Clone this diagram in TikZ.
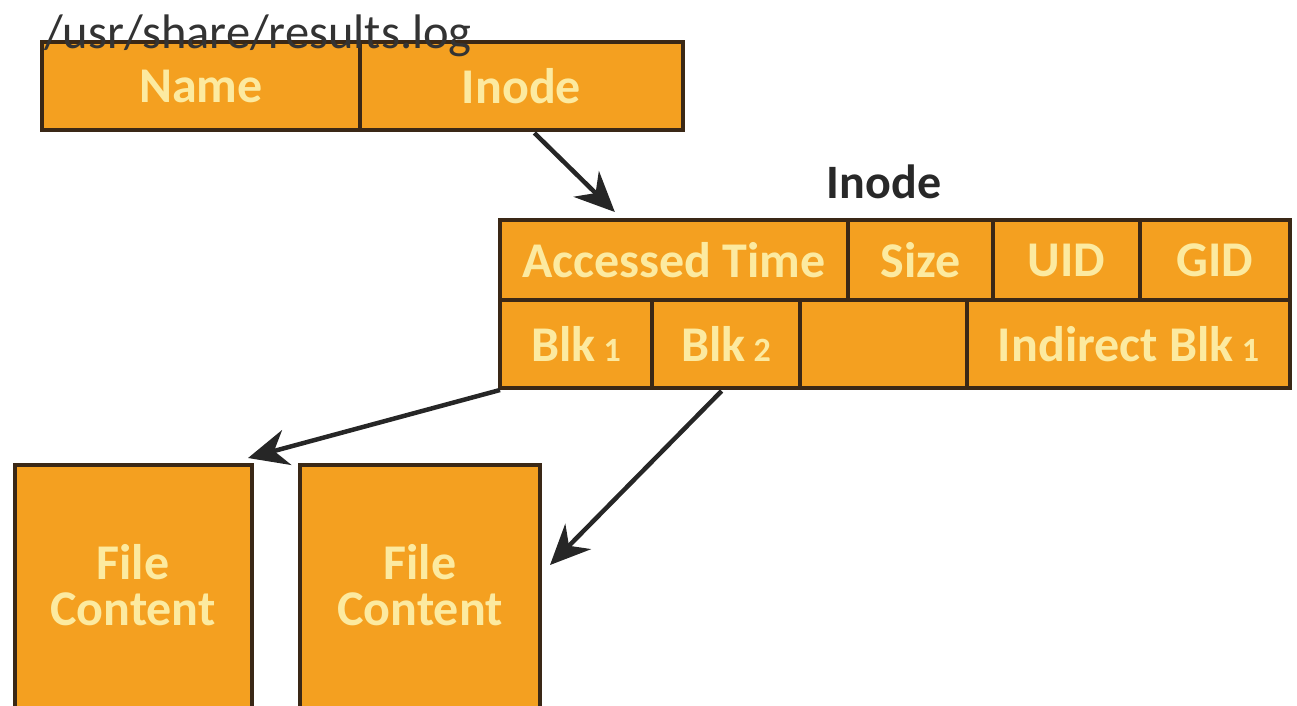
\documentclass[tikz,border=0pt]{standalone}
\usepackage{fontspec}
\setmainfont{Carlito}
\newfontfamily\cellfont{Carlito}[BoldFont={Carlito Bold}]
\usetikzlibrary{arrows.meta,calc}
\definecolor{orng}{RGB}{244,160,32}
\definecolor{bordc}{RGB}{58,40,22}
\definecolor{txtc}{RGB}{252,234,160}
\definecolor{lblc}{RGB}{40,40,40}
\newcommand{\subn}[1]{\,{\fontsize{34}{36}\selectfont #1}}
\tikzset{
  cell/.style={draw=bordc, fill=orng, line width=4pt, text=txtc, inner sep=0pt, outer sep=0pt,
    anchor=north west, font=\cellfont\bfseries\fontsize{50}{46}\selectfont, align=center},
  conn/.style={draw=black!85, line width=4.5pt, -{Stealth[length=40pt,width=36pt]}}
}
\begin{document}
\begin{tikzpicture}[x=1pt,y=-1pt]
\useasboundingbox (0,0) rectangle (1297,705);
\begin{scope}
\clip (0,0) rectangle (1297,705);
% top directory entry
\node[cell, minimum width=318pt, minimum height=88pt] (name) at (42,42) {Name};
\node[cell, minimum width=323pt, minimum height=88pt] (ino) at (360,42) {Inode};
\node[anchor=base west, inner sep=0pt, font=\fontsize{48.5}{50}\selectfont, text=black!80] (path) at (44,48) {/usr/share/results.log};
% inode table
\node[font=\cellfont\bfseries\fontsize{48}{50}\selectfont, text=lblc] (ilabel) at (884,182) {Inode};
\node[cell, minimum width=348pt, minimum height=80pt] (at) at (500,220) {Accessed Time};
\node[cell, minimum width=145pt, minimum height=80pt] (size) at (848,220) {Size};
\node[cell, minimum width=147pt, minimum height=80pt] (uid) at (993,220) {UID};
\node[cell, minimum width=150pt, minimum height=80pt] (gid) at (1140,220) {GID};
\node[cell, minimum width=152pt, minimum height=88pt] (b1) at (500,300) {Blk\subn{1}};
\node[cell, minimum width=148pt, minimum height=88pt] (b2) at (652,300) {Blk\subn{2}};
\node[cell, minimum width=167pt, minimum height=88pt] (empty) at (800,300) {};
\node[cell, minimum width=323pt, minimum height=88pt] (ib) at (967,300) {Indirect Blk\subn{1}};
% file content blocks
\node[cell, minimum width=237pt, minimum height=260pt] (f1) at (15,465) {};
\node[cell, minimum width=240pt, minimum height=260pt] (f2) at (300,465) {};
\node[text=txtc, font=\cellfont\bfseries\fontsize{50}{46}\selectfont, align=center] (f1t) at (133,585) {File\\Content};
\node[text=txtc, font=\cellfont\bfseries\fontsize{50}{46}\selectfont, align=center] (f2t) at (420,585) {File\\Content};
\end{scope}
% connectors
\coordinate (s1) at ($(ino.south west)!0.54!(ino.south east)+(0,3)$);
\coordinate (e1) at ($(at.north west)!0.33!(at.north east)+(0,-8)$);
\draw[conn] (s1) -- (e1);
\coordinate (s2) at ($(b1.south west)+(0,2)$);
\coordinate (e2) at ($(f1.north east)+(-4,-7)$);
\draw[conn] (s2) -- (e2);
\coordinate (s3) at ($(b2.south west)!0.47!(b2.south east)+(0,3)$);
\coordinate (e3) at ($(f2.north east)+(10,100)$);
\draw[conn] (s3) -- (e3);
\end{tikzpicture}
\end{document}
